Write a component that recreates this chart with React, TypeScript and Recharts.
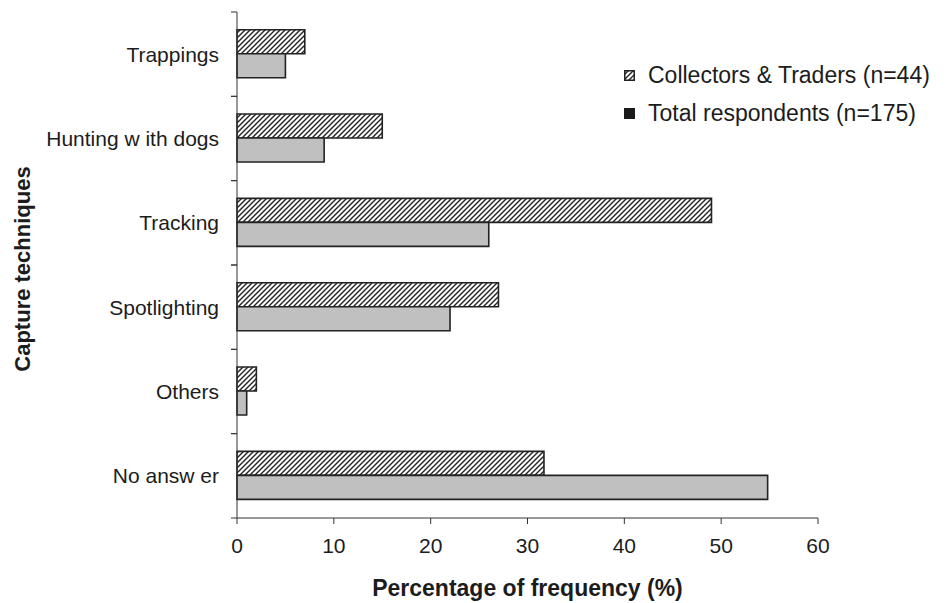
import React from 'react';
import { BarChart, Bar, XAxis, YAxis, Label } from 'recharts';

const categories = ['Trappings', 'Hunting w ith dogs', 'Tracking', 'Spotlighting', 'Others', 'No answ er'];
const collectorsTraders = [7, 15, 49, 27, 2, 31.7];
const totalRespondents = [5, 9, 26, 22, 1, 54.8];
const xTicks = [0, 10, 20, 30, 40, 50, 60];

const seriesNames = ['Collectors & Traders (n=44)', 'Total respondents (n=175)'];

const W = 952;
const H = 603;
const Y_AXIS_W = 237;
const X_AXIS_H = 85;
const TOP = 12;
const BAND = (H - TOP - X_AXIS_H) / categories.length;
const FONT = '"Liberation Sans", Arial, Helvetica, sans-serif';
const INK = '#1c1c1c';

const data = categories.map((name, i) => ({
  name,
  collectors: collectorsTraders[i],
  total: totalRespondents[i],
}));

// category label plus small ticks on the band boundaries
function CategoryTick(props: any) {
  const { y, payload } = props;
  return (
    <g>
      <text x={Y_AXIS_W - 18} y={y} textAnchor="end" dominantBaseline="central" fontSize={21} fill={INK} fontFamily={FONT}>
        {payload.value}
      </text>
      <line x1={Y_AXIS_W - 6} x2={Y_AXIS_W} y1={y - BAND / 2} y2={y - BAND / 2} stroke="#333" strokeWidth={1} />
      <line x1={Y_AXIS_W - 6} x2={Y_AXIS_W} y1={y + BAND / 2} y2={y + BAND / 2} stroke="#333" strokeWidth={1} />
    </g>
  );
}

function YTitle(props: any) {
  const { viewBox } = props;
  const cy = viewBox.y + viewBox.height / 2 + 4;
  return (
    <text
      x={22}
      y={cy}
      transform={`rotate(-90, 22, ${cy})`}
      textAnchor="middle"
      dominantBaseline="central"
      fontSize={22}
      fontWeight="bold"
      fill={INK}
      fontFamily={FONT}
    >
      Capture techniques
    </text>
  );
}

export default function App() {
  return (
    <div style={{ position: 'absolute', left: 0, top: 0, width: W, height: H, background: '#fff' }}>
      <svg width={0} height={0} style={{ position: 'absolute' }}>
        <defs>
          <pattern id="hatch" patternUnits="userSpaceOnUse" width={5} height={5}>
            <rect width={5} height={5} fill="#fff" />
            <path d="M-1,1 L1,-1 M0,5 L5,0 M4,6 L6,4" stroke="#222" strokeWidth={1.4} />
          </pattern>
        </defs>
      </svg>
      <BarChart
        width={W}
        height={H}
        data={data}
        layout="vertical"
        margin={{ top: TOP, right: 134, bottom: 0, left: 0 }}
        barCategoryGap="21%"
        barGap={0}
      >
        <XAxis
          type="number"
          domain={[0, 60]}
          ticks={xTicks}
          height={X_AXIS_H}
          tickSize={6}
          tickMargin={14}
          stroke="#333"
          tick={{ fontSize: 21, fill: INK, fontFamily: FONT }}
        >
          <Label
            value="Percentage of frequency (%)"
            position="insideBottom"
            offset={7}
            style={{ fontSize: 23, fontWeight: 'bold', fill: INK, fontFamily: FONT }}
          />
        </XAxis>
        <YAxis
          type="category"
          dataKey="name"
          width={Y_AXIS_W}
          tickLine={false}
          stroke="#333"
          tick={<CategoryTick />}
          interval={0}
        >
          <Label content={<YTitle />} />
        </YAxis>
        <Bar dataKey="collectors" name={seriesNames[0]} fill="url(#hatch)" stroke="#222" strokeWidth={1.6} isAnimationActive={false} />
        <Bar dataKey="total" name={seriesNames[1]} fill="#c0c0c0" stroke="#222" strokeWidth={1.6} isAnimationActive={false} />
      </BarChart>
      <div style={{ position: 'absolute', left: 624, top: 60, fontFamily: FONT, fontSize: 23, color: INK, lineHeight: '30px' }}>
        <div style={{ display: 'flex', alignItems: 'center', height: 30 }}>
          <svg width={11} height={11} style={{ marginRight: 13 }}>
            <rect x={0.75} y={0.75} width={9.5} height={9.5} fill="url(#hatch)" stroke="#222" strokeWidth={1.5} />
          </svg>
          {seriesNames[0]}
        </div>
        <div style={{ display: 'flex', alignItems: 'center', height: 30, marginTop: 8 }}>
          <svg width={11} height={11} style={{ marginRight: 13 }}>
            <rect x={0} y={0} width={11} height={11} fill="#1a1a1a" />
          </svg>
          {seriesNames[1]}
        </div>
      </div>
    </div>
  );
}
